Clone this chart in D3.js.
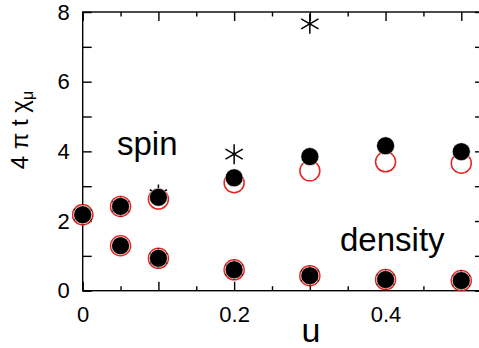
<!DOCTYPE html>
<html>
<head>
<meta charset="utf-8">
<script src="https://cdn.jsdelivr.net/npm/d3@7"></script>
<style>
  body { margin: 0; background: #fff; }
  svg { display: block; font-family: "Liberation Sans", Arial, sans-serif; }
</style>
</head>
<body>
<script>
const width = 479
const height = 348

// data
const uVals = [0, 0.05, 0.1, 0.2, 0.3, 0.4, 0.5]
const spinFilled = [2.18, 2.42, 2.68, 3.24, 3.85, 4.16, 3.99]
const spinOpen = [2.18, 2.42, 2.63, 3.10, 3.44, 3.70, 3.66]
const densFilled = [2.18, 1.29, 0.93, 0.60, 0.43, 0.32, 0.29]
const densOpen = [2.18, 1.29, 0.93, 0.60, 0.43, 0.32, 0.29]
const spinStarU = [0, 0.05, 0.1, 0.2, 0.3]
const spinStar = [2.18, 2.42, 2.76, 3.92, 7.66]
const densStarU = [0, 0.1, 0.2, 0.3, 0.4, 0.5]
const densStar = [2.18, 0.93, 0.60, 0.43, 0.32, 0.29]
const xMajor = [0, 0.1, 0.2, 0.3, 0.4, 0.5]
const xMinor = [0.05, 0.15, 0.25, 0.35, 0.45]
const xLabels = [0, 0.2, 0.4]
const yMajor = [0, 1, 2, 3, 4, 5, 6, 7, 8]
const yLabels = [0, 2, 4, 6, 8]

const x = d3.scaleLinear().domain([0, 0.53]).range([82.7, 484])
const y = d3.scaleLinear().domain([0, 8]).range([290.7, 12])

const svg = d3.select('body')
  .append('svg')
  .attr('width', width)
  .attr('height', height)

svg.append('rect').attr('width', width).attr('height', height).attr('fill', '#fff')

// frame
svg.append('rect')
  .attr('x', x(0)).attr('y', y(8))
  .attr('width', x(0.53) - x(0)).attr('height', y(0) - y(8))
  .attr('fill', 'none').attr('stroke', '#000').attr('stroke-width', 1.4)

const tickStyle = g => {
  g.select('.domain').remove()
  g.selectAll('line').attr('stroke', '#000').attr('stroke-width', 1.4)
  g.selectAll('text').attr('font-size', 22).attr('fill', '#000')
}

// x ticks bottom / top
svg.append('g').attr('transform', `translate(0,${y(0)})`)
  .call(d3.axisBottom(x).tickValues(xMajor).tickSizeInner(-9).tickSizeOuter(0).tickPadding(16)
    .tickFormat(d => xLabels.includes(d) ? d3.format('')(d) : ''))
  .call(tickStyle)
svg.append('g').attr('transform', `translate(0,${y(0)})`)
  .call(d3.axisBottom(x).tickValues(xMinor).tickSizeInner(-4.5).tickSizeOuter(0).tickFormat(''))
  .call(tickStyle)
svg.append('g').attr('transform', `translate(0,${y(8)})`)
  .call(d3.axisTop(x).tickValues(xMajor).tickSizeInner(-9).tickSizeOuter(0).tickFormat(''))
  .call(tickStyle)
svg.append('g').attr('transform', `translate(0,${y(8)})`)
  .call(d3.axisTop(x).tickValues(xMinor).tickSizeInner(-4.5).tickSizeOuter(0).tickFormat(''))
  .call(tickStyle)

// y ticks left / right
svg.append('g').attr('transform', `translate(${x(0)},0)`)
  .call(d3.axisLeft(y).tickValues(yMajor).tickSizeInner(-9).tickSizeOuter(0).tickPadding(13)
    .tickFormat(d => yLabels.includes(d) ? d : ''))
  .call(tickStyle)
svg.append('g').attr('transform', `translate(${x(0.53)},0)`)
  .call(d3.axisRight(y).tickValues(yMajor).tickSizeInner(-9).tickSizeOuter(0).tickFormat(''))
  .call(tickStyle)

// axis titles
svg.append('text')
  .attr('x', 311).attr('y', 341.5)
  .attr('text-anchor', 'middle')
  .attr('font-size', 34)
  .text('u')

const yTitle = svg.append('text')
  .attr('transform', 'translate(28,130) rotate(-90)')
  .attr('text-anchor', 'middle')
  .attr('font-size', 24)
yTitle.append('tspan').text('4 π t χ')
yTitle.append('tspan').attr('font-size', 16).attr('dy', 5).text('μ')

// series labels
svg.append('text').attr('x', 117).attr('y', 155).attr('font-size', 33).text('spin')
svg.append('text').attr('x', 340).attr('y', 250.5).attr('font-size', 33).text('density')

const plot = svg.append('g')

const openPts = uVals.map((u, i) => [u, spinOpen[i]]).concat(uVals.map((u, i) => [u, densOpen[i]]))
const filledPts = uVals.map((u, i) => [u, spinFilled[i]]).concat(uVals.map((u, i) => [u, densFilled[i]]))
const starPts = spinStarU.map((u, i) => [u, spinStar[i]]).concat(densStarU.map((u, i) => [u, densStar[i]]))

// open red circles
plot.append('g').selectAll('circle')
  .data(openPts)
  .enter()
  .append('circle')
  .attr('cx', d => x(d[0]))
  .attr('cy', d => y(d[1]))
  .attr('r', 10)
  .attr('fill', 'none')
  .attr('stroke', '#e8241e')
  .attr('stroke-width', 1.5)

// asterisks
const arm = 10
const star = [90, 30, 150].map(a => {
  const r = a * Math.PI / 180
  return `M${-arm * Math.cos(r)},${arm * Math.sin(r)}L${arm * Math.cos(r)},${-arm * Math.sin(r)}`
}).join('')
plot.append('g').selectAll('path')
  .data(starPts)
  .enter()
  .append('path')
  .attr('transform', d => `translate(${x(d[0])},${y(d[1])})`)
  .attr('d', star)
  .attr('stroke', '#000')
  .attr('stroke-width', 1.5)
  .attr('fill', 'none')

// filled black circles
plot.append('g').selectAll('circle')
  .data(filledPts)
  .enter()
  .append('circle')
  .attr('cx', d => x(d[0]))
  .attr('cy', d => y(d[1]))
  .attr('r', 9)
  .attr('fill', '#000')
  .attr('stroke', '#fff')
  .attr('stroke-width', 0.6)
</script>
</body>
</html>
